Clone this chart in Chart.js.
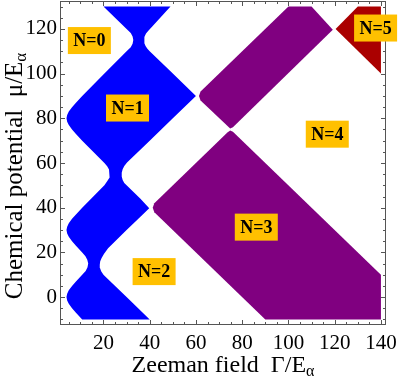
<!DOCTYPE html>
<html>
<head>
<meta charset="utf-8">
<script src="https://cdn.jsdelivr.net/npm/chart.js@4.4.1/dist/chart.umd.min.js"></script>
<style>html,body{margin:0;padding:0;background:#fff}</style>
</head>
<body>
<canvas id="phaseChart" width="399" height="383"></canvas>
<script>
// phase regions as [zeeman field, chemical potential] outlines
const regionN1 = [
  [10.8,-10],[40,-10],[30,0],[22,8],[20,10],[19,11.5],[18.5,13],[18.4,14.5],[18.6,16],[19.2,17.5],[20.2,19.3],[22,21.8],
  [30,30],[36,36],[39.8,39.8],[36,44],[30,50],[29,51.1],[28.3,52.4],[27.9,54],[27.9,55.6],[28.3,57.2],[29,58.7],[30.2,60.2],
  [40,70],[50,80],[60,90],[50,100],[40,110],[39,111.1],[38.2,112.4],[37.7,113.6],[37.6,114.8],[37.8,116.4],[38.4,117.9],
  [39.5,119.3],[41,121],[49,130],
  [20,130],[26,124],[30,120],[31.8,118.2],[32.6,116.6],[32.9,115],[32.6,113.4],[31.8,111.8],[30,110],[20.4,100],[10.8,90],
  [8.1,87],[6.4,85],[5,83],[4.3,81.5],[4,80],[4.3,78.5],[5,77],[6.4,75],[8.1,73],[10.8,70],[20.4,60],[21.6,58.6],[22.4,57.1],
  [22.8,55.3],[22.5,53.5],[21.6,51.8],[20.4,50],[10.8,40],[8.1,37],[6.4,35],[5,33],[4.3,31.5],[4,30],[4.3,28.5],[5,27],
  [6.4,25],[8.1,23],[10.8,20],[12.2,18.3],[13,16.7],[13.4,15],[13.1,13.3],[12.3,11.7],[10.8,10],[8.1,7],[6.4,5],[5,3],
  [4.3,1.5],[4,0],[4.3,-1.5],[5,-3],[6.4,-5],[8.1,-7],[10.8,-10]
];
const regionN3Lower = [
  [90,-10],[140,-10],[140,10],[76,74],[74.8,74.6],[73.6,73.6],[42,42],[41.3,40],[42,38],[90,-10]
];
const regionN3Upper = [
  [74.8,75.4],[76,76],[119.2,119.6],[110,130],[100,130],[62,92],[61.3,90],[62,88],[74.8,75.4]
];
const regionN5 = [
  [140,100],[140,130],[130,130],[120.4,120],[140,100]
];

const phaseLabels = ['N=0','N=1','N=2','N=3','N=4','N=5'];
const labelZeeman = [13.9, 30.4, 41.9, 86.1, 116.8, 137.7];
const labelMu = [114.8, 84.6, 11.4, 31.3, 72.9, 120.4];

const xTicks = [20, 40, 60, 80, 100, 120, 140];
const yTicks = [0, 20, 40, 60, 80, 100, 120];

const toPoints = r => r.map(p => ({x: p[0], y: p[1]}));

function region(data, color) {
  return {
    data: toPoints(data),
    showLine: true,
    fill: 'shape',
    backgroundColor: color,
    borderWidth: 0,
    pointRadius: 0,
    pointHoverRadius: 0
  };
}

// sub-scripted axis title, drawn centred on (cx, cy)
function drawTitle(ctx, main, sub, cx, cy, rotated, size) {
  ctx.save();
  ctx.translate(cx, cy);
  if (rotated) ctx.rotate(-Math.PI / 2);
  const subSize = Math.round(size * 0.67);
  ctx.font = size + 'px "Liberation Serif"';
  const w1 = ctx.measureText(main).width;
  ctx.font = subSize + 'px "Liberation Serif"';
  const w2 = ctx.measureText(sub).width;
  const x0 = -(w1 + w2) / 2;
  ctx.fillStyle = '#000';
  ctx.textBaseline = 'alphabetic';
  ctx.textAlign = 'left';
  ctx.font = size + 'px "Liberation Serif"';
  ctx.fillText(main, x0, 0);
  ctx.font = subSize + 'px "Liberation Serif"';
  ctx.fillText(sub, x0 + w1, 4);
  ctx.restore();
}

const framePlugin = {
  id: 'frame',
  afterDatasetsDraw(chart) {
    const {ctx, chartArea: a, scales: {x, y}} = chart;
    ctx.save();
    ctx.strokeStyle = '#555';
    ctx.lineWidth = 1;
    ctx.strokeRect(a.left + 0.5, a.top + 0.5, a.right - a.left - 1, a.bottom - a.top - 1);
    ctx.beginPath();
    for (let v = 5; v <= 140; v += 5) {
      const px = Math.round(x.getPixelForValue(v)) + 0.5;
      const len = v % 20 === 0 ? 5 : 3;
      ctx.moveTo(px, a.bottom); ctx.lineTo(px, a.bottom - len);
      ctx.moveTo(px, a.top); ctx.lineTo(px, a.top + len);
    }
    for (let v = -10; v <= 130; v += 5) {
      const py = Math.round(y.getPixelForValue(v)) + 0.5;
      const len = v % 20 === 0 ? 5 : 3;
      ctx.moveTo(a.left, py); ctx.lineTo(a.left + len, py);
      ctx.moveTo(a.right, py); ctx.lineTo(a.right - len, py);
    }
    ctx.stroke();
    ctx.restore();
  },
  afterDraw(chart) {
    const {ctx, chartArea: a, scales: {x, y}} = chart;
    ctx.save();
    ctx.font = 'bold 18px "Liberation Serif"';
    ctx.textAlign = 'center';
    ctx.textBaseline = 'middle';
    phaseLabels.forEach((t, i) => {
      const cx = x.getPixelForValue(labelZeeman[i]);
      const cy = y.getPixelForValue(labelMu[i]);
      ctx.fillStyle = '#ffc000';
      ctx.fillRect(cx - 21.5, cy - 13.5, 43, 27);
      ctx.fillStyle = '#000';
      ctx.fillText(t, cx, cy + 1);
    });
    ctx.restore();
    drawTitle(ctx, 'Zeeman field  \u0393/E', '\u03b1', (a.left + a.right) / 2, 372, false, 24);
    drawTitle(ctx, 'Chemical potential  \u03bc/E', '\u03b1', 22, 176, true, 25);
  }
};

new Chart(document.getElementById('phaseChart'), {
  type: 'scatter',
  data: {
    datasets: [
      region(regionN1, '#0000ff'),
      region(regionN3Lower, '#800080'),
      region(regionN3Upper, '#800080'),
      region(regionN5, '#aa0000')
    ]
  },
  options: {
    responsive: false,
    devicePixelRatio: 1,
    animation: false,
    layout: {padding: {top: 1, right: 13, left: 0, bottom: 0}},
    plugins: {legend: {display: false}, tooltip: {enabled: false}},
    scales: {
      x: {
        type: 'linear',
        min: 1.2,
        max: 142.2,
        grid: {display: false, drawTicks: false},
        border: {display: false},
        afterBuildTicks: s => { s.ticks = xTicks.map(v => ({value: v})); },
        afterFit: s => { s.height = 58; s.paddingLeft = 0; s.paddingRight = 0; },
        ticks: {color: '#000', padding: 6, font: {family: 'Liberation Serif', size: 21}}
      },
      y: {
        type: 'linear',
        min: -12.5,
        max: 132.5,
        grid: {display: false, drawTicks: false},
        border: {display: false},
        afterBuildTicks: s => { s.ticks = yTicks.map(v => ({value: v})); },
        afterFit: s => { s.width = 60; s.paddingTop = 0; s.paddingBottom = 0; },
        ticks: {color: '#000', padding: 3, font: {family: 'Liberation Serif', size: 21}}
      }
    }
  },
  plugins: [framePlugin]
});
</script>
</body>
</html>
